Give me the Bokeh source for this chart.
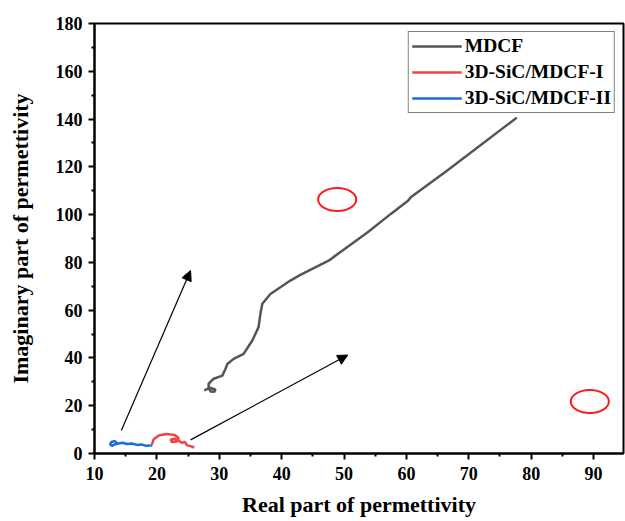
from bokeh.plotting import figure
from bokeh.models import Range1d, Legend, LegendItem, Arrow, NormalHead, FixedTicker
from bokeh.embed import file_html
from bokeh.resources import INLINE

# MDCF
mdcf_x = [27.6, 28.5, 29.4, 29.2, 28.6, 28.3, 28.3, 29.1, 30.5, 31.0, 31.3, 32.3, 33.9, 35.3, 36.3,
          36.6, 36.9, 38.2, 41.4, 43.0, 47.6, 48.3, 53.8, 57.5, 60.3, 60.7, 66.5, 77.7]
mdcf_y = [26.4, 27.5, 26.7, 25.8, 26.0, 27.5, 29.2, 31.3, 32.6, 35.5, 37.5, 39.6, 41.7, 47.3, 52.9,
          58.5, 62.7, 66.8, 72.4, 74.8, 80.8, 82.2, 92.6, 100.3, 105.9, 107.3, 118.4, 140.6]
# 3D-SiC/MDCF-I
s1_x = [19.2, 19.5, 20.3, 21.5, 22.8, 23.5, 23.2, 22.4, 22.2, 22.8, 23.5, 24.0, 24.5, 24.8, 25.5, 26.0]
s1_y = [3.8, 6.0, 7.5, 8.2, 7.8, 6.5, 5.0, 4.8, 5.8, 6.2, 5.4, 4.5, 4.8, 3.5, 3.0, 2.5]
# 3D-SiC/MDCF-II
s2_x = [13.6, 13.2, 12.7, 12.5, 12.8, 13.2, 13.8, 14.5, 15.2, 16.0, 16.8, 17.5, 18.3, 19.3]
s2_y = [4.5, 5.2, 4.8, 3.8, 3.2, 3.8, 4.2, 4.5, 4.0, 4.2, 3.6, 3.8, 3.2, 3.4]

# annotation arrows (start -> end)
arrow_x0 = [14.3, 25.4]
arrow_y0 = [9.6, 5.7]
arrow_x1 = [25.4, 50.6]
arrow_y1 = [76.6, 41.2]

# red ellipses
ell_x = [48.9, 89.4]
ell_y = [106.3, 21.8]

x_ticks = [10, 20, 30, 40, 50, 60, 70, 80, 90]
y_ticks = [0, 20, 40, 60, 80, 100, 120, 140, 160, 180]

FONT = "Liberation Serif"

p = figure(width=625, height=521, output_backend="svg", toolbar_location=None,
           x_range=Range1d(10, 94.8), y_range=Range1d(0, 180))
p.min_border_left = 94
p.min_border_right = 2
p.min_border_top = 23
p.min_border_bottom = 68
p.background_fill_color = "white"
p.border_fill_color = "white"
p.outline_line_color = "black"
p.outline_line_width = 2
p.xgrid.visible = False
p.ygrid.visible = False

for ax, ticks in ((p.xaxis[0], x_ticks), (p.yaxis[0], y_ticks)):
    step = ticks[1] - ticks[0]
    ax.ticker = FixedTicker(ticks=ticks, minor_ticks=[t + step / 2 for t in ticks])
    ax.axis_line_width = 2
    ax.major_tick_line_width = 2
    ax.minor_tick_line_width = 2
    ax.major_tick_out = 6
    ax.major_tick_in = 0
    ax.minor_tick_out = 3
    ax.minor_tick_in = 0
    ax.major_label_text_font = FONT
    ax.major_label_text_font_style = "bold"
    ax.major_label_text_font_size = "18px"
    ax.major_label_text_color = "black"
    ax.axis_label_text_font = FONT
    ax.axis_label_text_font_style = "bold"
    ax.axis_label_text_font_size = "22px"
    ax.axis_label_text_color = "black"

p.xaxis.axis_label = "Real part of permettivity"
p.yaxis.axis_label = "Imaginary part of permettivity"
p.xaxis.major_label_standoff = 7
p.xaxis.axis_label_standoff = 9
p.yaxis.major_label_standoff = 6
p.yaxis.axis_label_standoff = 20

r1 = p.line(mdcf_x, mdcf_y, line_color="#555555", line_width=2.5)
r2 = p.line(s1_x, s1_y, line_color="#f04343", line_width=2.5)
r3 = p.line(s2_x, s2_y, line_color="#1d6bd8", line_width=2.5)

p.ellipse(x=ell_x, y=ell_y, width=6.1, height=9.6, fill_color=None,
          line_color="#ff1a1a", line_width=2)

for i in range(len(arrow_x0)):
    p.add_layout(Arrow(end=NormalHead(size=10, fill_color="black", line_color="black", line_width=1),
                       x_start=arrow_x0[i], y_start=arrow_y0[i],
                       x_end=arrow_x1[i], y_end=arrow_y1[i],
                       line_color="black", line_width=1.2))

legend = Legend(items=[LegendItem(label="MDCF", renderers=[r1]),
                       LegendItem(label="3D-SiC/MDCF-I", renderers=[r2]),
                       LegendItem(label="3D-SiC/MDCF-II", renderers=[r3])],
                location="top_right")
legend.margin = 8
legend.padding = 3
legend.spacing = 4
legend.glyph_width = 50
legend.glyph_height = 22
legend.label_height = 22
legend.label_standoff = 3
legend.label_text_font = FONT
legend.label_text_font_style = "bold"
legend.label_text_font_size = "19.5px"
legend.label_text_color = "black"
legend.border_line_color = "black"
legend.border_line_width = 1.5
legend.background_fill_alpha = 1
p.add_layout(legend)

open("out.html", "w").write(file_html(p, INLINE))
